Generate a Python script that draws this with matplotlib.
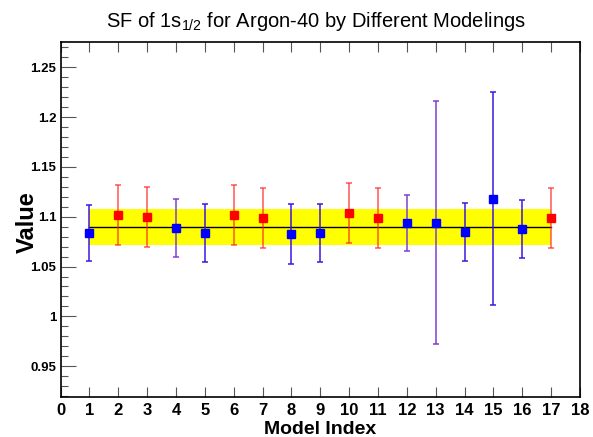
import matplotlib
matplotlib.use('Agg')
import matplotlib.pyplot as plt
from matplotlib.ticker import MultipleLocator, FormatStrFormatter

plt.rcParams['mathtext.fontset'] = 'custom'
plt.rcParams['mathtext.rm'] = 'Liberation Sans'
plt.rcParams['mathtext.it'] = 'Liberation Sans:italic'
plt.rcParams['mathtext.bf'] = 'Liberation Sans:bold'

# Data
model_index = list(range(1, 18))
sf_values = [1.084, 1.102, 1.100, 1.089, 1.084, 1.102, 1.099, 1.083, 1.084,
             1.104, 1.099, 1.094, 1.094, 1.085, 1.118, 1.088, 1.099]
sf_errors = [0.028, 0.030, 0.030, 0.029, 0.029, 0.030, 0.030, 0.030, 0.029,
             0.030, 0.030, 0.028, 0.122, 0.029, 0.107, 0.029, 0.030]
model_group = ["B", "R", "R", "B", "B", "R", "R", "B", "B",
               "R", "R", "B", "B", "B", "B", "B", "R"]
mean_value = 1.090
band_low = 1.072
band_high = 1.108
x_ticks = list(range(0, 19))

# styles
marker_color = {"R": "#ff0000", "B": "#0000ff"}
bar_color = {"R": "#ff2020", "B": "#3a18e0"}
purple_models = {4, 12, 13}

fig = plt.figure(figsize=(5.93, 4.37), dpi=100)
ax = fig.add_axes([60.5 / 593, 1 - 396.5 / 437, (580 - 60.5) / 593, (396.5 - 41.5) / 437])

# band and mean line
ax.fill_between([model_index[0], model_index[-1]], band_low, band_high,
                color="#ffff00", linewidth=0, zorder=1)
ax.plot([model_index[0], model_index[-1]], [mean_value, mean_value],
        color="black", linewidth=1.0, zorder=2)

for x, y, e, g in zip(model_index, sf_values, sf_errors, model_group):
    ecol = "#8040d0" if x in purple_models else bar_color[g]
    alpha = 0.75 if g == "R" else 1.0
    ax.errorbar(x, y, yerr=e, fmt="none", ecolor=ecol, elinewidth=1.1,
                capsize=2, capthick=1.1, alpha=alpha, zorder=3)
    ax.plot(x, y, marker="s", markersize=6, color=marker_color[g],
            linestyle="none", zorder=4)

ax.set_xlim(0, 18)
ax.set_ylim(0.9195, 1.276)
ax.set_xticks(x_ticks)
ax.yaxis.set_major_locator(MultipleLocator(0.05))
ax.yaxis.set_minor_locator(MultipleLocator(0.01))
ax.yaxis.set_major_formatter(FormatStrFormatter('%g'))

ax.tick_params(axis="x", which="major", direction="in", length=7, width=0.8,
               top=True, bottom=True, labelsize=12, pad=5, color="#555555")
ax.tick_params(axis="y", which="major", direction="in", length=11, width=0.8,
               left=True, right=False, labelsize=9.5, pad=3, color="#555555")
ax.tick_params(axis="y", which="minor", direction="in", length=5, width=0.8,
               left=True, right=False, color="#555555")

for lab in ax.get_xticklabels() + ax.get_yticklabels():
    lab.set_fontweight("bold")
    lab.set_fontfamily("Liberation Sans")

for sp in ax.spines.values():
    sp.set_linewidth(1.2)
    sp.set_color("black")

ax.set_xlabel("Model Index", fontsize=14, fontweight="bold",
              family="Liberation Sans", labelpad=2)
ax.set_ylabel("Value", fontsize=17, fontweight="bold",
              family="Liberation Sans", labelpad=4)
ax.yaxis.set_label_coords(-22 / 519.5, 0.49)

fig.text(316 / 593, 1 - 27 / 437, r"SF of 1s$_{\mathregular{1/2}}$ for Argon-40 by Different Modelings",
         ha="center", va="baseline", fontsize=14.5, family="Liberation Sans")

plt.savefig("out.png", facecolor="white")
plt.close()
